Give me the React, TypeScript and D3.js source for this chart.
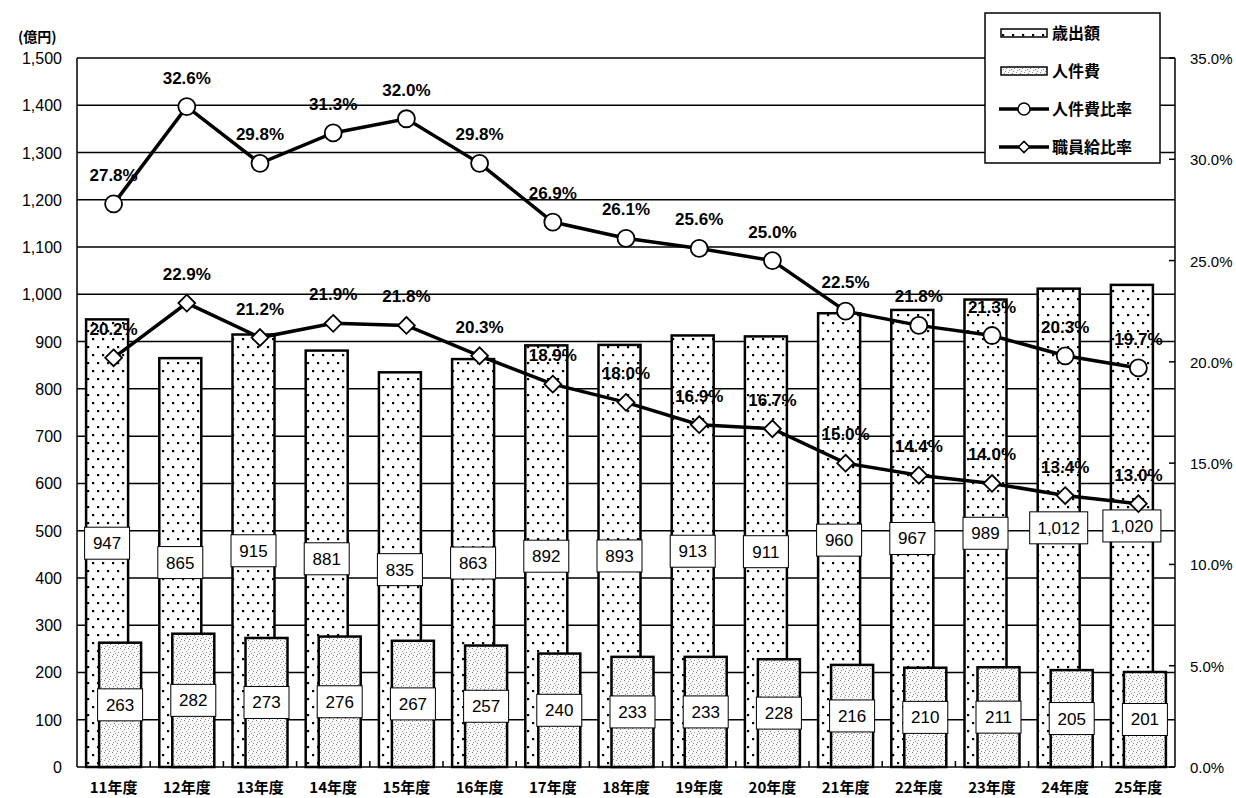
import { useEffect, useRef } from 'react'
import * as d3 from 'd3'

const categories = ['11年度', '12年度', '13年度', '14年度', '15年度', '16年度', '17年度', '18年度', '19年度', '20年度', '21年度', '22年度', '23年度', '24年度', '25年度']
const expenditure = [947, 865, 915, 881, 835, 863, 892, 893, 913, 911, 960, 967, 989, 1012, 1020]
const personnel = [263, 282, 273, 276, 267, 257, 240, 233, 233, 228, 216, 210, 211, 205, 201]
const personnelRatio = [27.8, 32.6, 29.8, 31.3, 32.0, 29.8, 26.9, 26.1, 25.6, 25.0, 22.5, 21.8, 21.3, 20.3, 19.7]
const salaryRatio = [20.2, 22.9, 21.2, 21.9, 21.8, 20.3, 18.9, 18.0, 16.9, 16.7, 15.0, 14.4, 14.0, 13.4, 13.0]
const leftTicks = [0, 100, 200, 300, 400, 500, 600, 700, 800, 900, 1000, 1100, 1200, 1300, 1400, 1500]
const rightTicks = [0, 5, 10, 15, 20, 25, 30, 35]
const legendLabels = ['歳出額', '人件費', '人件費比率', '職員給比率']

const W = 1236
const H = 798
const FONT = '"Liberation Sans", Arial, "Noto Sans CJK JP", sans-serif'
const JP = '"Noto Sans CJK JP", "Liberation Sans", sans-serif'

export default function App() {
  const svgRef = useRef<SVGSVGElement>(null)

  useEffect(() => {
    if (!svgRef.current) return
    const svg = d3.select(svgRef.current)
    svg.selectAll('*').remove()

    const left = 77
    const right = 1175
    const top = 58
    const bottom = 767

    const x = d3.scaleBand().domain(categories).range([left, right])
    const y = d3.scaleLinear().domain([0, 1500]).range([bottom, top])
    const yr = d3.scaleLinear().domain([0, 35]).range([bottom, top])

    const defs = svg.append('defs')
    const dots = defs.append('pattern')
      .attr('id', 'dots').attr('patternUnits', 'userSpaceOnUse')
      .attr('width', 10).attr('height', 16)
    dots.append('rect').attr('width', 10).attr('height', 16).attr('fill', '#fff')
    dots.append('rect').attr('x', 2).attr('y', 2).attr('width', 2.2).attr('height', 2.2).attr('fill', '#000')
    dots.append('rect').attr('x', 7).attr('y', 10).attr('width', 2.2).attr('height', 2.2).attr('fill', '#000')

    const grain = defs.append('pattern')
      .attr('id', 'grain').attr('patternUnits', 'userSpaceOnUse')
      .attr('width', 8).attr('height', 8)
    grain.append('rect').attr('width', 8).attr('height', 8).attr('fill', '#fbfbfb')
    const specks = [[0, 0], [4, 1], [2, 3], [6, 4], [1, 6], [5, 7], [3, 5]]
    specks.forEach(([sx, sy]) => {
      grain.append('rect').attr('x', sx).attr('y', sy).attr('width', 1).attr('height', 1).attr('fill', '#888')
    })

    svg.append('rect').attr('width', W).attr('height', H).attr('fill', '#fff')

    // gridlines
    svg.append('g').selectAll('line')
      .data(leftTicks)
      .enter().append('line')
      .attr('x1', left).attr('x2', right)
      .attr('y1', d => y(d)).attr('y2', d => y(d))
      .attr('stroke', '#000').attr('stroke-width', 1.5)

    // plot frame
    svg.append('line').attr('x1', left).attr('x2', left).attr('y1', top).attr('y2', bottom)
      .attr('stroke', '#000').attr('stroke-width', 1.5)
    svg.append('line').attr('x1', right).attr('x2', right).attr('y1', top).attr('y2', bottom)
      .attr('stroke', '#000').attr('stroke-width', 1.5)

    // category ticks on x axis
    svg.append('g').selectAll('line')
      .data(categories.slice(1))
      .enter().append('line')
      .attr('x1', d => x(d)!).attr('x2', d => x(d)!)
      .attr('y1', bottom).attr('y2', bottom - 6)
      .attr('stroke', '#000').attr('stroke-width', 1.5)

    // right axis inner ticks
    svg.append('g').selectAll('line')
      .data(rightTicks)
      .enter().append('line')
      .attr('x1', right - 6).attr('x2', right)
      .attr('y1', d => yr(d)).attr('y2', d => yr(d))
      .attr('stroke', '#000').attr('stroke-width', 1.5)

    const bw = 42
    const shift = 6.5
    const cx = (c: string) => x(c)! + x.bandwidth() / 2

    // 歳出額 bars
    svg.append('g').selectAll('rect')
      .data(expenditure)
      .enter().append('rect')
      .attr('x', (d, i) => cx(categories[i]) - shift - bw / 2)
      .attr('y', d => y(d))
      .attr('width', bw)
      .attr('height', d => bottom - y(d))
      .attr('fill', 'url(#dots)')
      .attr('stroke', '#000').attr('stroke-width', 2.5)

    // 人件費 bars
    svg.append('g').selectAll('rect')
      .data(personnel)
      .enter().append('rect')
      .attr('x', (d, i) => cx(categories[i]) + shift - bw / 2)
      .attr('y', d => y(d))
      .attr('width', bw)
      .attr('height', d => bottom - y(d))
      .attr('fill', 'url(#grain)')
      .attr('stroke', '#000').attr('stroke-width', 2.5)

    const fmt = d3.format(',')
    const valueBox = (vals: number[], dx: number) => {
      const g = svg.append('g')
      vals.forEach((v, i) => {
        const bx = cx(categories[i]) + dx
        const by = y(v / 2)
        const txt = fmt(v)
        const bwid = txt.length > 3 ? 58 : 45
        g.append('rect')
          .attr('x', bx - bwid / 2).attr('y', by - 16)
          .attr('width', bwid).attr('height', 32)
          .attr('fill', '#fff').attr('stroke', '#000').attr('stroke-width', 1)
        g.append('text')
          .attr('x', bx).attr('y', by + 6)
          .attr('text-anchor', 'middle')
          .style('font-family', FONT).style('font-size', '17px')
          .text(txt)
      })
    }
    valueBox(expenditure, -shift)
    valueBox(personnel, shift)

    // ratio lines
    const line = d3.line<number>()
      .x((d, i) => cx(categories[i]))
      .y(d => yr(d))

    svg.append('path').datum(personnelRatio)
      .attr('d', line).attr('fill', 'none')
      .attr('stroke', '#000').attr('stroke-width', 3.5)
    svg.append('path').datum(salaryRatio)
      .attr('d', line).attr('fill', 'none')
      .attr('stroke', '#000').attr('stroke-width', 3.5)

    svg.append('g').selectAll('circle')
      .data(personnelRatio)
      .enter().append('circle')
      .attr('cx', (d, i) => cx(categories[i]))
      .attr('cy', d => yr(d))
      .attr('r', 8.5)
      .attr('fill', '#fff').attr('stroke', '#000').attr('stroke-width', 1.8)

    const diamond = d3.symbol().type(d3.symbolDiamond2).size(180)
    svg.append('g').selectAll('path')
      .data(salaryRatio)
      .enter().append('path')
      .attr('d', diamond)
      .attr('transform', (d, i) => `translate(${cx(categories[i])},${yr(d)})`)
      .attr('fill', '#fff').attr('stroke', '#000').attr('stroke-width', 1.8)

    const pctLabels = (vals: number[]) => {
      svg.append('g').selectAll('text')
        .data(vals)
        .enter().append('text')
        .attr('x', (d, i) => cx(categories[i]))
        .attr('y', d => yr(d) - 23)
        .attr('text-anchor', 'middle')
        .style('font-family', FONT).style('font-size', '17px').style('font-weight', 'bold')
        .text(d => d.toFixed(1) + '%')
    }
    pctLabels(personnelRatio)
    pctLabels(salaryRatio)

    // left axis labels
    svg.append('g').selectAll('text')
      .data(leftTicks)
      .enter().append('text')
      .attr('x', 62).attr('y', d => y(d) + 6)
      .attr('text-anchor', 'end')
      .style('font-family', FONT).style('font-size', '16px')
      .text(d => fmt(d))
    svg.append('text')
      .attr('x', 18).attr('y', 42)
      .style('font-family', JP).style('font-size', '14px').style('font-weight', 'bold')
      .text('(億円)')

    // right axis labels
    svg.append('g').selectAll('text')
      .data(rightTicks)
      .enter().append('text')
      .attr('x', 1190).attr('y', d => yr(d) + 6)
      .style('font-family', FONT).style('font-size', '15px')
      .text(d => d.toFixed(1) + '%')

    // x axis labels
    svg.append('g').selectAll('text')
      .data(categories)
      .enter().append('text')
      .attr('x', d => cx(d)).attr('y', 793)
      .attr('text-anchor', 'middle')
      .style('font-family', JP).style('font-size', '15px').style('font-weight', 'bold')
      .text(d => d)

    // legend
    const lg = svg.append('g')
    lg.append('rect').attr('x', 985).attr('y', 13).attr('width', 175).attr('height', 150)
      .attr('fill', '#fff').attr('stroke', '#000').attr('stroke-width', 1.5)
    const rows = [33, 71, 109, 147]
    lg.append('rect').attr('x', 1001).attr('y', rows[0] - 4).attr('width', 46).attr('height', 8)
      .attr('fill', 'url(#dots)').attr('stroke', '#000').attr('stroke-width', 1.5)
    lg.append('rect').attr('x', 1001).attr('y', rows[1] - 4).attr('width', 46).attr('height', 8)
      .attr('fill', 'url(#grain)').attr('stroke', '#000').attr('stroke-width', 1.5)
    ;[2, 3].forEach(k => {
      lg.append('line').attr('x1', 999).attr('x2', 1049).attr('y1', rows[k]).attr('y2', rows[k])
        .attr('stroke', '#000').attr('stroke-width', 3.5)
    })
    lg.append('circle').attr('cx', 1024).attr('cy', rows[2]).attr('r', 6)
      .attr('fill', '#fff').attr('stroke', '#000').attr('stroke-width', 1.5)
    lg.append('path').attr('d', d3.symbol().type(d3.symbolDiamond2).size(80))
      .attr('transform', `translate(1024,${rows[3]})`)
      .attr('fill', '#fff').attr('stroke', '#000').attr('stroke-width', 1.5)
    legendLabels.forEach((t, k) => {
      lg.append('text').attr('x', 1052).attr('y', rows[k] + 6)
        .style('font-family', JP).style('font-size', '16px').style('font-weight', 'bold')
        .text(t)
    })
  }, [])

  return (
    <svg
      ref={svgRef}
      width={W}
      height={H}
      style={{ position: 'absolute', left: 0, top: 0 }}
    />
  )
}
